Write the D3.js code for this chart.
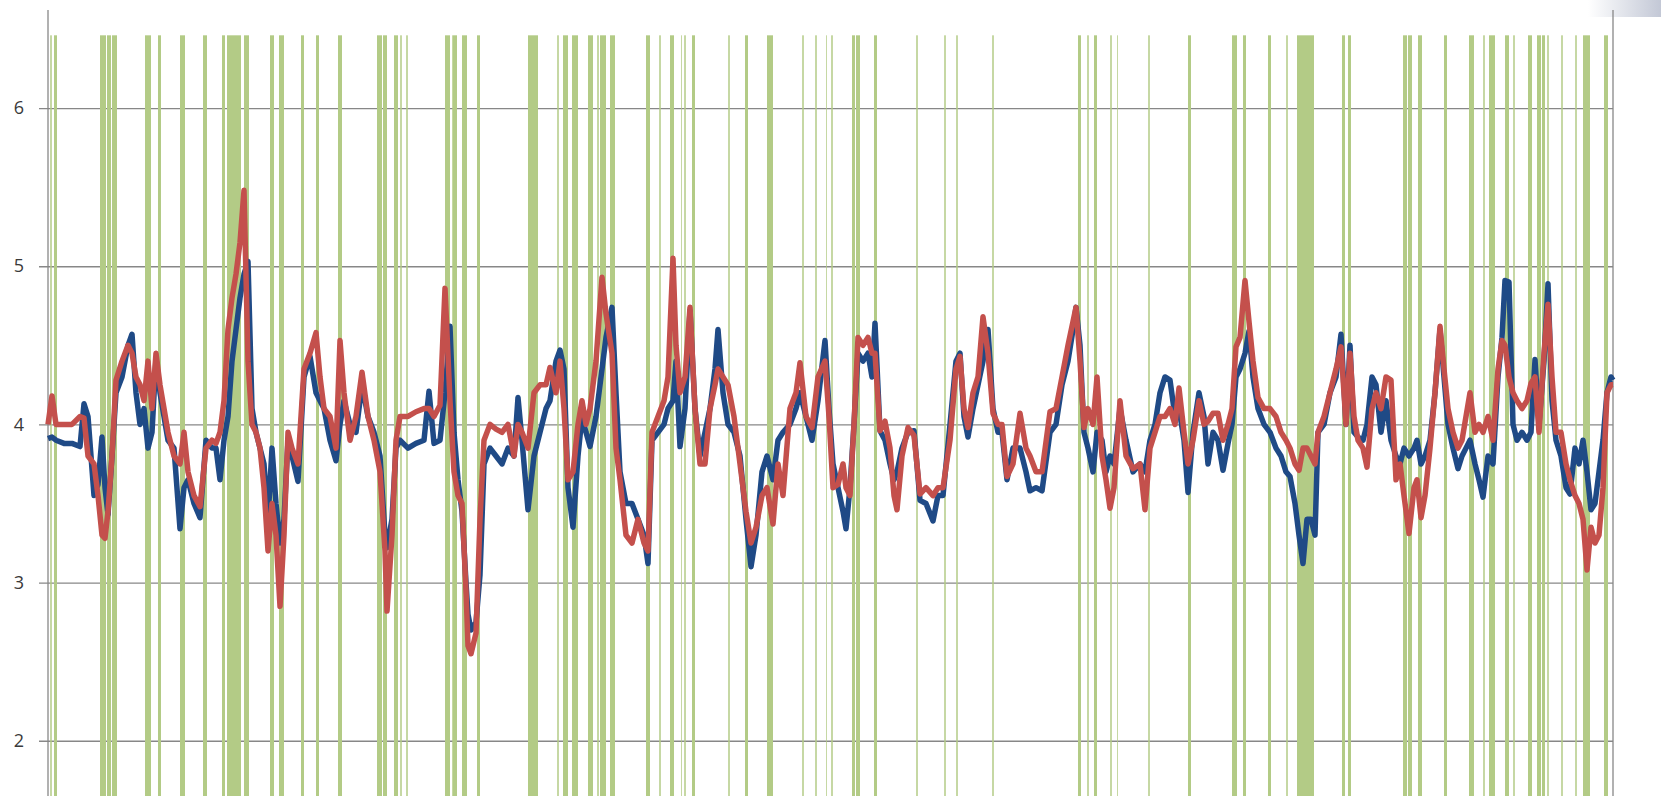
<!DOCTYPE html>
<html>
<head>
<meta charset="utf-8">
<script src="https://cdn.jsdelivr.net/npm/d3@7"></script>
<style>
  html, body { margin: 0; padding: 0; background: #fff; overflow: hidden; }
</style>
</head>
<body>
<div id="chart"></div>
<script>
// day index of each reading
const days = [
  0,4,8,16,24,32,36,40,46,50,
  54,57,60,64,68,74,80,84,88,92,
  96,100,104,108,112,116,120,126,132,136,
  140,146,152,158,164,168,172,176,180,184,
  188,192,196,200,204,208,212,216,220,224,
  228,232,236,240,244,250,256,262,268,272,
  276,282,288,292,296,302,308,314,320,326,
  332,337,339,344,348,352,360,368,376,381,
  386,392,397,402,406,410,414,418,420,423,
  428,432,436,442,448,454,460,466,470,474,
  480,486,492,498,502,508,512,516,520,525,
  530,534,538,542,548,554,558,564,568,572,
  578,584,590,596,600,604,610,616,620,625,
  628,632,637,642,647,652,657,662,667,670,
  675,680,686,692,698,703,708,714,719,725,
  730,735,742,748,752,758,764,770,777,781,
  785,790,795,798,802,806,810,815,820,824,
  827,832,837,842,846,849,854,860,866,872,
  878,885,890,895,902,908,912,916,920,925,
  930,935,940,945,950,954,959,965,972,978,
  982,988,994,1002,1008,1014,1020,1025,1028,1032,
  1036,1040,1045,1049,1054,1058,1062,1066,1072,1078,
  1085,1092,1097,1102,1107,1112,1117,1122,1127,1131,
  1136,1140,1145,1151,1156,1160,1165,1170,1175,1180,
  1184,1188,1192,1197,1201,1205,1210,1216,1222,1228,
  1233,1238,1242,1247,1251,1255,1259,1263,1267,1270,
  1276,1282,1288,1293,1298,1302,1306,1310,1315,1319,
  1324,1328,1333,1338,1343,1348,1352,1356,1361,1366,
  1369,1373,1377,1382,1387,1392,1396,1400,1405,1410,
  1414,1418,1422,1427,1431,1435,1440,1445,1450,1454,
  1457,1461,1465,1469,1474,1479,1483,1487,1491,1496,
  1500,1504,1508,1513,1518,1522,1527,1531,1535,1539,
  1543,1547,1551,1555,1559,1563,1565
];

// dark blue series
const blueSeries = [
  3.91,3.92,3.90,3.88,3.88,3.86,4.13,4.05,3.55,3.62,
  3.92,3.60,3.43,3.80,4.20,4.30,4.50,4.57,4.20,4.00,
  4.10,3.85,3.95,4.42,4.20,4.05,3.90,3.85,3.34,3.60,
  3.65,3.50,3.41,3.90,3.85,3.85,3.65,3.90,4.05,4.40,
  4.60,4.80,4.95,5.03,4.10,3.95,3.85,3.75,3.40,3.85,
  3.50,3.25,3.40,3.90,3.80,3.64,4.30,4.43,4.20,4.15,
  4.10,3.90,3.77,4.00,4.15,4.00,3.95,4.25,4.05,3.95,
  3.80,3.30,3.22,3.40,3.85,3.90,3.85,3.88,3.90,4.21,
  3.88,3.90,4.20,4.62,3.95,3.65,3.45,3.00,2.80,2.70,
  2.75,3.05,3.75,3.85,3.80,3.75,3.85,3.80,4.17,3.90,
  3.46,3.80,3.95,4.10,4.15,4.40,4.47,4.35,3.60,3.35,
  3.80,4.05,3.95,3.86,4.05,4.35,4.55,4.74,4.20,3.70,
  3.50,3.50,3.40,3.30,3.12,3.90,3.95,4.00,4.10,4.15,
  4.40,3.86,4.10,4.72,4.10,3.80,3.95,4.10,4.35,4.60,
  4.20,4.00,3.95,3.80,3.40,3.10,3.30,3.70,3.80,3.65,
  3.90,3.95,4.00,4.10,4.20,4.05,3.90,4.15,4.53,4.10,
  3.75,3.60,3.45,3.34,3.60,4.00,4.45,4.40,4.45,4.30,
  4.64,3.96,3.90,3.75,3.65,3.70,3.85,3.95,3.96,3.52,
  3.50,3.39,3.55,3.55,4.00,4.40,4.45,4.05,3.92,4.10,
  4.25,4.40,4.60,4.10,3.95,3.95,3.65,3.85,3.85,3.70,
  3.58,3.60,3.58,3.95,4.00,4.25,4.40,4.60,4.74,4.50,
  3.95,3.85,3.70,3.95,3.90,3.70,3.80,3.75,4.10,3.90,
  3.70,3.75,3.70,3.90,4.00,4.20,4.30,4.28,4.05,4.10,
  3.90,3.57,3.95,4.20,4.05,3.75,3.95,3.90,3.71,3.88,
  4.00,4.30,4.35,4.45,4.59,4.30,4.10,4.00,3.95,3.85,
  3.80,3.70,3.67,3.50,3.30,3.12,3.40,3.40,3.30,3.95,
  4.00,4.20,4.30,4.57,4.00,4.50,3.95,3.92,3.90,4.00,
  4.30,4.25,3.95,4.15,3.90,3.80,3.75,3.85,3.80,3.85,
  3.90,3.75,3.80,3.90,4.20,4.60,4.30,4.00,3.85,3.72,
  3.80,3.85,3.90,3.75,3.65,3.54,3.80,3.75,4.30,4.55,
  4.91,4.90,4.00,3.90,3.95,3.90,3.95,4.41,4.00,4.40,
  4.89,4.15,3.90,3.80,3.60,3.56,3.85,3.75,3.90,3.70,
  3.46,3.50,3.70,3.90,4.20,4.30,4.28
];

// red series
const redSeries = [
  4.00,4.18,4.00,4.00,4.00,4.05,4.04,3.80,3.75,3.55,
  3.30,3.28,3.45,3.80,4.28,4.40,4.50,4.45,4.30,4.25,
  4.15,4.40,4.10,4.45,4.25,4.10,3.95,3.80,3.75,3.95,
  3.70,3.55,3.48,3.85,3.90,3.88,3.95,4.15,4.60,4.80,
  4.95,5.15,5.48,4.40,4.00,3.95,3.85,3.60,3.20,3.50,
  3.30,2.85,3.30,3.95,3.85,3.75,4.35,4.45,4.58,4.30,
  4.10,4.05,3.85,4.53,4.20,3.90,4.05,4.33,4.05,3.90,
  3.70,3.20,2.82,3.30,3.90,4.05,4.05,4.08,4.10,4.10,
  4.05,4.12,4.86,4.15,3.70,3.55,3.50,2.95,2.60,2.55,
  2.68,3.40,3.90,4.00,3.97,3.95,4.00,3.80,4.00,3.95,
  3.85,4.20,4.25,4.25,4.36,4.20,4.40,4.10,3.65,3.70,
  4.00,4.15,4.00,4.10,4.40,4.93,4.70,4.45,3.85,3.65,
  3.30,3.25,3.40,3.25,3.20,3.95,4.05,4.15,4.30,5.05,
  4.50,4.20,4.30,4.74,4.10,3.75,3.75,4.10,4.25,4.35,
  4.30,4.25,4.05,3.75,3.45,3.25,3.35,3.55,3.60,3.37,
  3.75,3.55,4.10,4.20,4.39,4.05,3.98,4.30,4.40,4.05,
  3.60,3.62,3.75,3.60,3.55,4.00,4.55,4.50,4.55,4.45,
  4.45,3.96,4.02,3.85,3.55,3.46,3.80,3.98,3.93,3.56,
  3.60,3.55,3.60,3.60,3.90,4.35,4.43,4.10,3.98,4.20,
  4.30,4.68,4.45,4.07,4.00,4.00,3.67,3.75,4.07,3.85,
  3.80,3.70,3.70,4.08,4.10,4.30,4.50,4.65,4.74,4.40,
  3.98,4.10,4.00,4.30,3.80,3.65,3.47,3.60,4.15,3.80,
  3.72,3.75,3.46,3.85,3.95,4.05,4.05,4.10,4.00,4.23,
  3.95,3.75,3.90,4.15,4.00,4.02,4.07,4.07,3.90,4.00,
  4.10,4.49,4.55,4.91,4.65,4.40,4.17,4.10,4.10,4.05,
  3.95,3.90,3.85,3.75,3.71,3.85,3.85,3.80,3.75,3.95,
  4.05,4.20,4.35,4.49,4.00,4.45,4.05,3.90,3.85,3.73,
  4.10,4.20,4.10,4.30,4.28,3.65,3.75,3.55,3.31,3.60,
  3.65,3.41,3.55,3.85,4.20,4.62,4.35,4.10,3.95,3.85,
  3.90,4.05,4.20,3.95,4.00,3.95,4.05,3.90,4.35,4.53,
  4.50,4.30,4.20,4.15,4.10,4.15,4.26,4.30,3.95,4.45,
  4.76,4.30,3.95,3.95,3.75,3.65,3.55,3.50,3.40,3.08,
  3.35,3.25,3.30,3.60,4.20,4.25,4.25
];

// flagged periods (green columns): start and end day
const bandStarts = [2,6,52,59,64,97,110,132,155,174,179,196,222,231,253,268,290,329,335,346,352,358,
  397,404,405,414,429,480,509,515,524,540,549,552,562,598,611,622,633,636,644,680,697,719,754,767,
  778,783,804,808,826,868,896,908,944,1030,1039,1046,1062,1069,1100,1140,
  1184,1195,1220,1238,1249,1294,1300,1355,1360,1370,1396,1421,1435,1441,1457,1465,1480,1489,1494,1499,1513,1527,1535,1556];
const bandEnds = [4,9,58,63,69,103,113,137,159,177,193,201,226,236,256,271,294,334,339,350,354,360,
  402,405,409,419,432,490,511,520,530,545,551,558,567,602,613,626,634,638,647,682,700,725,756,769,
  779,785,807,812,829,870,898,910,946,1033,1041,1049,1064,1070,1102,1143,
  1189,1198,1223,1240,1266,1297,1303,1359,1364,1374,1399,1426,1437,1447,1461,1467,1484,1493,1497,1501,1515,1529,1542,1560];
const bandTop = 6.46;

const yTicks = [2, 3, 4, 5, 6];

// layout
const W = 1661, H = 796;
const plotLeft = 48, plotRight = 1613, plotTop = 10, plotBottom = 804;

const svg = d3.select("#chart").append("svg")
    .attr("width", W)
    .attr("height", H);

const x = d3.scaleLinear()
    .domain([0, 1565])
    .range([plotLeft, plotRight]);

const y = d3.scaleLinear()
    .domain([1.6, 6.62])
    .range([plotBottom, plotTop]);

// window corner shading
const grad = svg.append("defs").append("linearGradient")
    .attr("id", "corner").attr("x1", "0").attr("x2", "1").attr("y1", "0").attr("y2", "0");
grad.append("stop").attr("offset", "0%").attr("stop-color", "#ffffff");
grad.append("stop").attr("offset", "100%").attr("stop-color", "#c3c8d6");
svg.append("rect")
    .attr("x", 1588).attr("y", 0).attr("width", W - 1588).attr("height", 17)
    .attr("fill", "url(#corner)");

// gridlines + y axis
const yAxis = d3.axisLeft(y)
    .tickValues(yTicks)
    .tickSize(-(plotRight - plotLeft))
    .tickPadding(0)
    .tickFormat(d3.format("d"));

const gAxis = svg.append("g")
    .attr("transform", `translate(${plotLeft},0)`)
    .call(yAxis);
gAxis.select(".domain").remove();
gAxis.selectAll(".tick line")
    .attr("x1", -9)
    .attr("stroke", "#878787")
    .attr("stroke-width", 1.3);
gAxis.selectAll(".tick text")
    .attr("x", -24)
    .attr("fill", "#3a3a3a")
    .style("font-family", "'Open Sans', 'Liberation Sans', sans-serif")
    .style("font-size", "18px");

// green columns
svg.append("g").selectAll("rect")
    .data(bandStarts.map((s, i) => ({ s, e: bandEnds[i] })))
    .enter().append("rect")
    .attr("x", d => x(d.s))
    .attr("y", y(bandTop))
    .attr("width", d => Math.max(1, x(d.e) - x(d.s)))
    .attr("height", y(1.6) - y(bandTop))
    .attr("fill", "#b3cb86")
    .attr("opacity", d => (d.e - d.s) <= 2 ? 0.75 : 1);

// vertical axis lines
[plotLeft, plotRight].forEach(px => {
    svg.append("line")
        .attr("x1", px).attr("x2", px)
        .attr("y1", plotTop).attr("y2", H)
        .attr("stroke", "#878787")
        .attr("stroke-width", 1.3);
});

// series lines
const line = d3.line()
    .x((d, i) => x(days[i]))
    .y(d => y(d));

svg.append("path")
    .datum(blueSeries)
    .attr("fill", "none")
    .attr("stroke", "#1f4a86")
    .attr("stroke-width", 5.5)
    .attr("stroke-linejoin", "round")
    .attr("d", line);

svg.append("path")
    .datum(redSeries)
    .attr("fill", "none")
    .attr("stroke", "#c4504c")
    .attr("stroke-width", 5.5)
    .attr("stroke-linejoin", "round")
    .attr("d", line);
</script>
</body>
</html>
